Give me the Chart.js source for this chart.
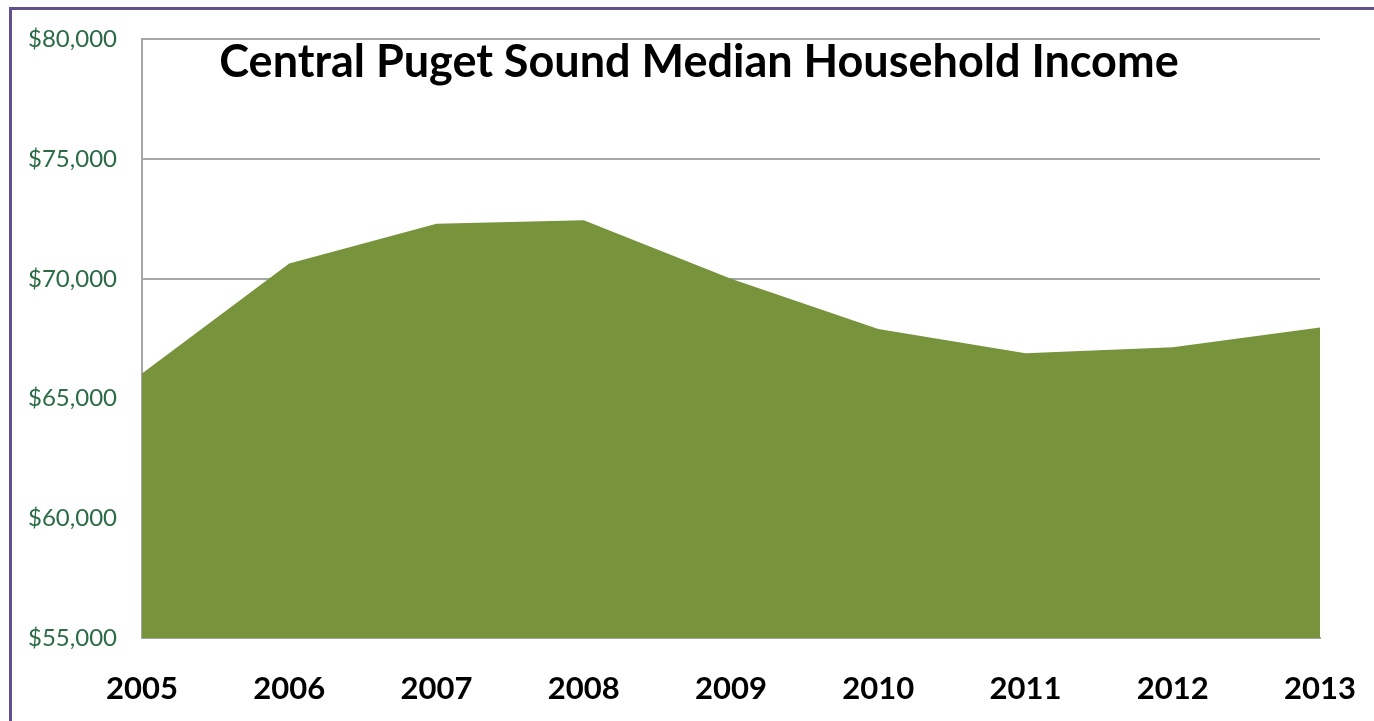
<!DOCTYPE html>
<html>
<head>
<meta charset="utf-8">
<script src="https://cdn.jsdelivr.net/npm/chart.js@4"></script>
<style>
    body { margin: 0; background: #fff; overflow: hidden; }
    #wrap { position: absolute; left: 0; top: 0; width: 1374px; height: 721px; }
    #frame { position: absolute; left: 9px; top: 7px; width: 1400px; height: 800px;
             border-left: 3px solid #60508c; border-top: 3px solid #60508c; }
</style>
</head>
<body>
<div id="frame"></div>
<div id="wrap"><canvas id="chart"></canvas></div>
<script>
// data
const years = ['2005', '2006', '2007', '2008', '2009', '2010', '2011', '2012', '2013'];
const income = [66050, 70640, 72300, 72450, 70000, 67900, 66890, 67140, 67970];
const yTicks = [55000, 60000, 65000, 70000, 75000, 80000];

const chartTitle = 'Central Puget Sound Median Household Income';

// title sits inside the plot, not in its own box
const titlePlugin = {
    id: 'insideTitle',
    afterDraw(chart) {
        const ctx = chart.ctx;
        ctx.save();
        ctx.font = 'bold 45px Lato';
        ctx.fillStyle = '#000';
        ctx.textAlign = 'center';
        ctx.textBaseline = 'middle';
        ctx.fillText(chartTitle, 699, 62);
        ctx.restore();
    }
};

function money(v) {
    return '$' + v.toLocaleString('en-US');
}

new Chart(document.getElementById('chart'), {
    type: 'line',
    data: {
        labels: years,
        datasets: [{
            label: 'Median Household Income',
            data: income,
            fill: 'start',
            backgroundColor: '#77933c',
            borderWidth: 0,
            pointRadius: 0,
            tension: 0
        }]
    },
    options: {
        responsive: true,
        maintainAspectRatio: false,
        animation: false,
        layout: { padding: { left: 0, right: 54, top: 38, bottom: 0 } },
        plugins: {
            legend: { display: false },
            tooltip: { enabled: false }
        },
        scales: {
            x: {
                offset: false,
                grid: { display: false, drawTicks: false },
                border: { display: true, color: '#a6a6a6', width: 2 },
                ticks: {
                    color: '#000',
                    font: { family: 'Lato', size: 31, weight: 'bold' },
                    padding: 32,
                    maxRotation: 0
                },
                afterFit(scale) {
                    scale.height = 83;
                    scale.paddingLeft = 0;
                    scale.paddingRight = 0;
                }
            },
            y: {
                min: 55000,
                max: 80000,
                afterBuildTicks(scale) {
                    scale.ticks = yTicks.map(v => ({ value: v }));
                },
                grid: { color: '#a6a6a6', lineWidth: 2, drawTicks: false },
                border: { display: true, color: '#a6a6a6', width: 2 },
                ticks: {
                    color: '#2a6b45',
                    font: { family: 'Lato', size: 24 },
                    padding: 25,
                    callback: v => money(v)
                },
                afterFit(scale) { scale.width = 142; }
            }
        }
    },
    plugins: [titlePlugin]
});
</script>
</body>
</html>
